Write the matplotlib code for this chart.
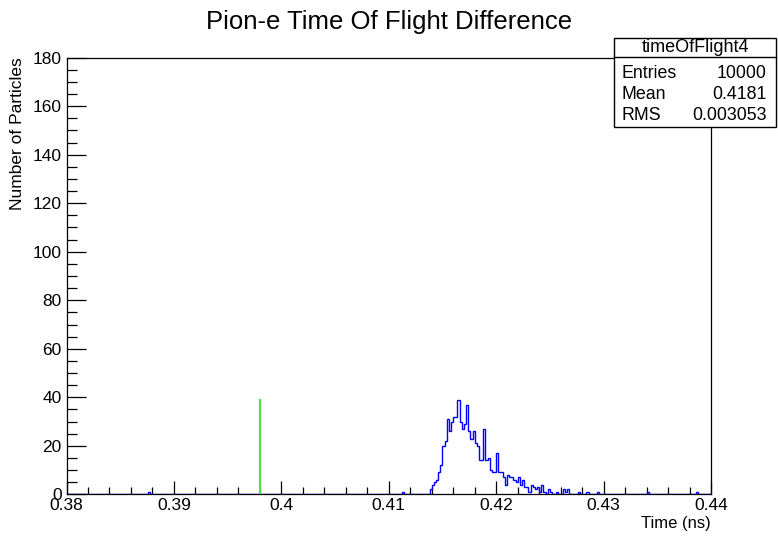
import numpy as np
import matplotlib

matplotlib.use("Agg")
import matplotlib.pyplot as plt
from matplotlib.lines import Line2D
from matplotlib.patches import Rectangle
from matplotlib.ticker import MultipleLocator

plt.rcParams["font.family"] = ["Liberation Sans", "DejaVu Sans"]

# histogram binning (ROOT TH1: 300 bins over 0.38 - 0.44 ns)
n_bins = 300
x_lo, x_hi = 0.38, 0.44

# main peak, consecutive bins starting at core_first_bin
core_first_bin = 169
core_counts = [
    2, 4, 5, 6, 9, 12, 20, 22, 31, 26, 30, 32, 32, 39, 30, 27, 29, 37, 26, 23,
    26, 21, 20, 14, 14, 27, 14, 15, 10, 9, 9, 17, 9, 9, 7, 4, 8, 7, 7, 6,
    5, 7, 4, 6, 3, 3, 1, 4, 3, 2, 3, 1, 4, 1, 0, 2, 1, 0, 0, 1,
    0, 0, 2, 1, 2, 0, 0, 0, 0, 1, 0, 0, 0, 1, 0, 0, 0, 0, 1,
]
# isolated single entries away from the peak
stray_bins = [38, 156, 270, 293]
stray_counts = [1, 1, 1, 1]

# green marker line
marker_x = 0.398
marker_height = 39

stats_title = "timeOfFlight4"
stats_names = ["Entries", "Mean", "RMS"]
stats_values = ["10000", "0.4181", "0.003053"]

W, H = 778, 539


def fx(px):
    return px / W


def fy(py):
    return 1 - py / H


counts = np.zeros(n_bins)
counts[core_first_bin:core_first_bin + len(core_counts)] = core_counts
counts[stray_bins] = stray_counts
edges = np.linspace(x_lo, x_hi, n_bins + 1)

fig = plt.figure(figsize=(W / 100, H / 100), dpi=100)
ax = fig.add_axes([fx(66.5), fy(494.3), (711 - 66.5) / W, (494.3 - 57.7) / H])

ax.stairs(counts, edges, color="#0000ff", linewidth=1.0, zorder=2)
ax.plot([marker_x, marker_x], [0, marker_height], color="#55e055", linewidth=1.6, zorder=3)

ax.set_xlim(x_lo, x_hi)
ax.set_ylim(0, 180)
ax.xaxis.set_major_locator(MultipleLocator(0.01))
ax.xaxis.set_minor_locator(MultipleLocator(0.002))
ax.yaxis.set_major_locator(MultipleLocator(20))
ax.yaxis.set_minor_locator(MultipleLocator(5))
ax.xaxis.set_major_formatter(lambda v, pos: f"{v:g}")

ax.tick_params(axis="x", which="major", direction="in", length=9.4, width=0.9, labelsize=12.5, pad=3)
ax.tick_params(axis="x", which="minor", direction="in", length=4.7, width=0.9)
ax.tick_params(axis="y", which="major", direction="in", length=14, width=0.9, labelsize=12.5, pad=3.5)
ax.tick_params(axis="y", which="minor", direction="in", length=7, width=0.9)
for spine in ax.spines.values():
    spine.set_linewidth(0.9)

fig.text(fx(389), fy(29), "Pion-e Time Of Flight Difference", ha="center", va="baseline", fontsize=18.5)
fig.text(fx(711), fy(528), "Time (ns)", ha="right", va="baseline", fontsize=12)
fig.text(fx(18), fy(57.7), "Number of Particles", ha="center", va="top", rotation=90, fontsize=12.5)

# stats box
fig.add_artist(Rectangle((fx(614), fy(127)), (776 - 614) / W, (127 - 38) / H,
                         transform=fig.transFigure, facecolor="white", edgecolor="black",
                         linewidth=1.0, zorder=5))
fig.add_artist(Line2D([fx(614), fx(776)], [fy(56.5), fy(56.5)], transform=fig.transFigure,
                      color="black", linewidth=1.0, zorder=6))
fig.text(fx(695), fy(52.5), stats_title, ha="center", va="baseline", fontsize=13, zorder=7)
for row, (name, value) in enumerate(zip(stats_names, stats_values)):
    base = 78.3 + row * 21
    fig.text(fx(621.5), fy(base), name, ha="left", va="baseline", fontsize=12.8, zorder=7)
    fig.text(fx(767), fy(base), value, ha="right", va="baseline", fontsize=12.8, zorder=7)

fig.savefig("out.png", dpi=100)
plt.close(fig)
